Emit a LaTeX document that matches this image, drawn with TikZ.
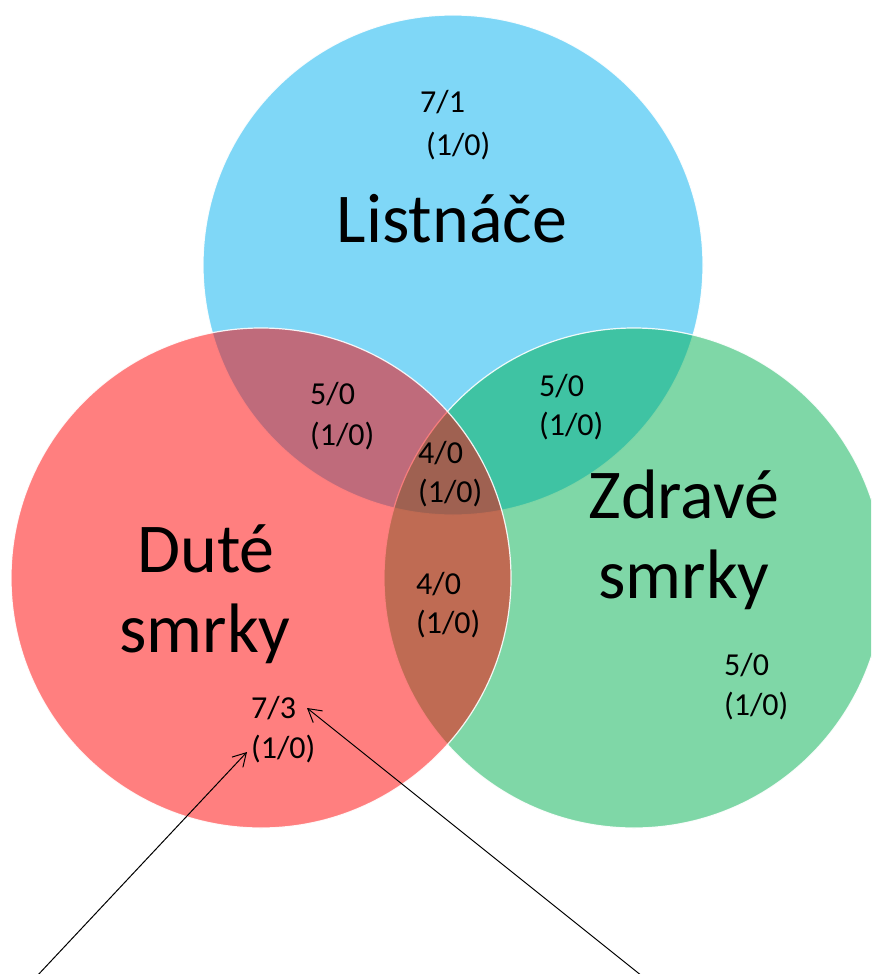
\documentclass[tikz,border=0pt]{standalone}
\usepackage{fontspec}
\setmainfont{Carlito}
\usetikzlibrary{arrows.meta}
\definecolor{cblue}{RGB}{0,176,240}
\definecolor{cgreen}{RGB}{0,176,80}
\definecolor{cred}{RGB}{255,0,0}
\tikzset{
  venn/.style={fill opacity=0.5, draw=white, draw opacity=0.9, line width=1.2pt},
  bigtxt/.style={font=\fontsize{70}{80}\selectfont, inner sep=0pt, anchor=base},
  smalltxt/.style={font=\fontsize{32}{40}\selectfont, inner sep=0pt, anchor=base west},
  pointer/.style={-{Straight Barb[length=13pt,width=15pt,line width=1pt]}, line width=1pt, black}
}
\begin{document}
\begin{tikzpicture}[x=1pt,y=-1pt]
\useasboundingbox (0,0) rectangle (871,974);
\clip (0,0) rectangle (871,974);
\fill[white] (0,0) rectangle (871,974);
% circles
\path[venn, fill=cblue]  (453,265) circle[radius=250pt];
\path[venn, fill=cgreen] (634,578) circle[radius=250pt];
\path[venn, fill=cred]   (261,578) circle[radius=250pt];
% big labels
\node[bigtxt] (listnace) at (452,242) {Listnáče};
\node[bigtxt] (dute1) at (206,572) {Duté};
\node[bigtxt] (dute2) at (205,652) {smrky};
\node[bigtxt] (zdr1) at (684,518) {Zdravé};
\node[bigtxt] (zdr2) at (684,598) {smrky};
% small labels
\node[smalltxt] (b1) at (420,112) {7/1};
\node[smalltxt] (b2) at (426,155) {(1/0)};
\node[smalltxt] (rb1) at (310,404) {5/0};
\node[smalltxt] (rb2) at (310,445) {(1/0)};
\node[smalltxt] (gb1) at (539,396) {5/0};
\node[smalltxt] (gb2) at (539,435) {(1/0)};
\node[smalltxt] (t1) at (418,463) {4/0};
\node[smalltxt] (t2) at (418,502) {(1/0)};
\node[smalltxt] (rg1) at (416,594) {4/0};
\node[smalltxt] (rg2) at (416,633) {(1/0)};
\node[smalltxt] (g1) at (724,675) {5/0};
\node[smalltxt] (g2) at (724,715) {(1/0)};
\node[smalltxt] (r1) at (251,718) {7/3};
\node[smalltxt] (r2) at (251,758) {(1/0)};
% pointers
\coordinate (s1) at (37,976);
\coordinate (e1) at (247,752);
\coordinate (s2) at (642,976);
\coordinate (e2) at (307,708);
\draw[pointer] (s1) -- (e1);
\draw[pointer] (s2) -- (e2);
\end{tikzpicture}
\end{document}
